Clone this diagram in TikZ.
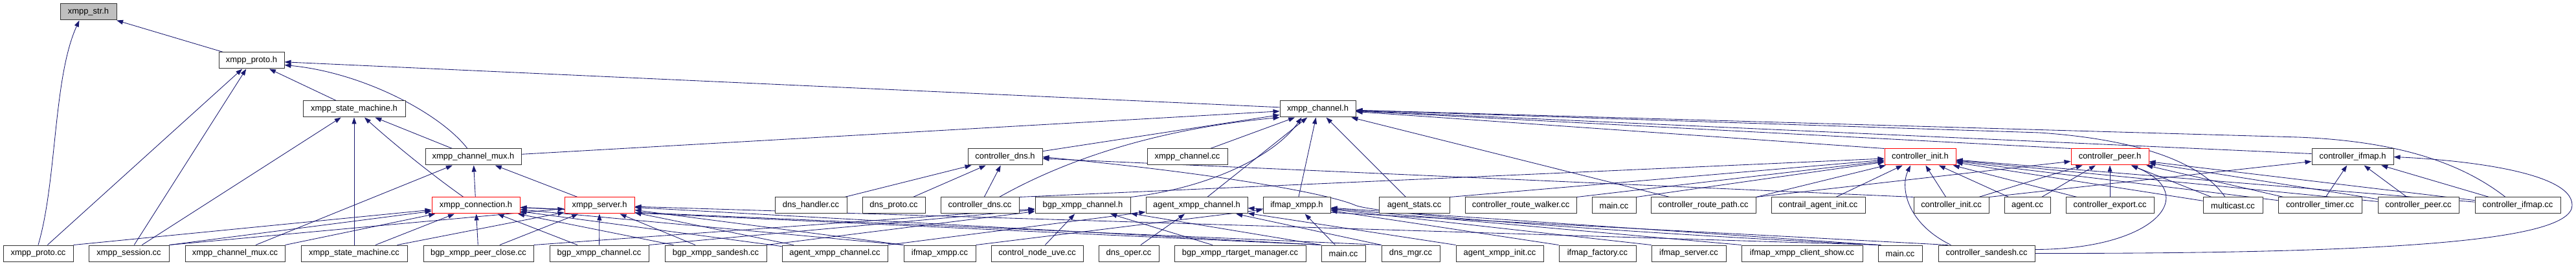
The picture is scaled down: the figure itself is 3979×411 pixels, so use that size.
\documentclass[tikz,border=0pt]{standalone}
\usepackage{fontspec}
\setmainfont{Liberation Sans}
\usetikzlibrary{arrows.meta,backgrounds}
\definecolor{edgec}{HTML}{191970}
\begin{document}
\begin{tikzpicture}[x=1pt,y=-1pt,
  box/.style={draw=black!80,line width=1pt,fill=white,minimum height=25pt,inner sep=0pt,font=\fontsize{12.95}{15}\selectfont},
  hl/.style={draw=red},
  cur/.style={fill=black!25},
  edge/.style={draw=edgec,line width=0.85pt,-{Triangle[length=10pt,width=7pt]}}]
\useasboundingbox (0,0) rectangle (3979,411);
% row 0-2
\node[box,cur,minimum width=87pt] (str) at (136.5,18.5) {xmpp\_str.h};
\node[box,minimum width=101pt] (proto) at (388.5,93.5) {xmpp\_proto.h};
\node[box,minimum width=158pt] (sm) at (547,168.5) {xmpp\_state\_machine.h};
\node[box,minimum width=117pt] (ch) at (2035.5,168.5) {xmpp\_channel.h};
% row 3
\node[box,minimum width=148pt] (muxh) at (731,242.5) {xmpp\_channel\_mux.h};
\node[box,minimum width=115pt] (cdnsh) at (1552.5,242.5) {controller\_dns.h};
\node[box,minimum width=124pt] (chcc) at (1834,242.5) {xmpp\_channel.cc};
\node[box,hl,minimum width=110pt] (cih) at (2966,242.5) {controller\_init.h};
\node[box,hl,minimum width=120pt] (cph) at (3259,242.5) {controller\_peer.h};
\node[box,minimum width=126pt] (cifh) at (3634,242.5) {controller\_ifmap.h};
% row 4
\node[box,hl,minimum width=136pt] (conn) at (735,317.5) {xmpp\_connection.h};
\node[box,hl,minimum width=108pt] (srv) at (926,317.5) {xmpp\_server.h};
\node[box,minimum width=111pt] (dnsh) at (1252.5,317.5) {dns\_handler.cc};
\node[box,minimum width=97pt] (dnsp) at (1380.5,317.5) {dns\_proto.cc};
\node[box,minimum width=121pt] (cdnscc) at (1513.5,317.5) {controller\_dns.cc};
\node[box,minimum width=147pt] (bxch) at (1672.5,317.5) {bgp\_xmpp\_channel.h};
\node[box,minimum width=157pt] (axch) at (1848.5,317.5) {agent\_xmpp\_channel.h};
\node[box,minimum width=104pt] (ixh) at (2003,317.5) {ifmap\_xmpp.h};
\node[box,minimum width=109pt] (astats) at (2184.5,317.5) {agent\_stats.cc};
\node[box,minimum width=172pt] (crw) at (2349,317.5) {controller\_route\_walker.cc};
\node[box,minimum width=68pt] (main4) at (2493,317.5) {main.cc};
\node[box,minimum width=162pt] (crp) at (2631,317.5) {controller\_route\_path.cc};
\node[box,minimum width=145pt] (cai) at (2808.5,317.5) {contrail\_agent\_init.cc};
\node[box,minimum width=116pt] (cicc) at (3014,317.5) {controller\_init.cc};
\node[box,minimum width=71pt] (agent) at (3131.5,317.5) {agent.cc};
\node[box,minimum width=136pt] (cexp) at (3259,317.5) {controller\_export.cc};
\node[box,minimum width=92pt] (mcast) at (3449,317.5) {multicast.cc};
\node[box,minimum width=129pt] (ctimer) at (3583.5,317.5) {controller\_timer.cc};
\node[box,minimum width=125pt] (cpeer) at (3735.5,317.5) {controller\_peer.cc};
\node[box,minimum width=132pt] (cifcc) at (3889,317.5) {controller\_ifmap.cc};
% row 5
\node[box,minimum width=108pt] (protocc) at (59,391.5) {xmpp\_proto.cc};
\node[box,minimum width=124pt] (sesscc) at (199,391.5) {xmpp\_session.cc};
\node[box,minimum width=154pt] (muxcc) at (363,391.5) {xmpp\_channel\_mux.cc};
\node[box,minimum width=164pt] (smcc) at (547,391.5) {xmpp\_state\_machine.cc};
\node[box,minimum width=170pt] (pclose) at (739,391.5) {bgp\_xmpp\_peer\_close.cc};
\node[box,minimum width=153pt] (bxcc) at (925.5,391.5) {bgp\_xmpp\_channel.cc};
\node[box,minimum width=157pt] (bxsand) at (1105.5,391.5) {bgp\_xmpp\_sandesh.cc};
\node[box,minimum width=163pt] (axcc) at (1289.5,391.5) {agent\_xmpp\_channel.cc};
\node[box,minimum width=111pt] (ixcc) at (1451.5,391.5) {ifmap\_xmpp.cc};
\node[box,minimum width=142pt] (cnuve) at (1602,391.5) {control\_node\_uve.cc};
\node[box,minimum width=93pt] (dnsoper) at (1743.5,391.5) {dns\_oper.cc};
\node[box,minimum width=203pt] (rtm) at (1915.5,391.5) {bgp\_xmpp\_rtarget\_manager.cc};
\node[box,minimum width=68pt] (main5a) at (2075,391.5) {main.cc};
\node[box,minimum width=90pt] (dnsmgr) at (2179,391.5) {dns\_mgr.cc};
\node[box,minimum width=135pt] (axinit) at (2316.5,391.5) {agent\_xmpp\_init.cc};
\node[box,minimum width=119pt] (iffact) at (2467.5,391.5) {ifmap\_factory.cc};
\node[box,minimum width=115pt] (ifsrv) at (2608.5,391.5) {ifmap\_server.cc};
\node[box,minimum width=187pt] (ifshow) at (2783.5,391.5) {ifmap\_xmpp\_client\_show.cc};
\node[box,minimum width=68pt] (main5b) at (2935,391.5) {main.cc};
\node[box,minimum width=149pt] (csand) at (3068.5,391.5) {controller\_sandesh.cc};

\begin{scope}[on background layer]
% xmpp_str.h
\draw[edge] (proto) -- (str);
\draw[edge] (protocc.north) .. controls (88,280) and (82,120) .. ([xshift=-14pt]str.south);
% xmpp_proto.h
\draw[edge] (protocc) -- (proto);
\draw[edge] (sesscc) -- (proto);
\draw[edge] (sm) -- (proto);
\draw[edge] (ch) -- (proto);
\draw[edge] ([xshift=-9pt]muxh.north) .. controls (680,175) and (560,112) .. ([yshift=-7pt]proto.east);
% xmpp_state_machine.h
\draw[edge] (sesscc) -- (sm);
\draw[edge] (smcc) -- (sm);
\draw[edge] ([xshift=-19pt]conn.north) .. controls (660,265) and (600,215) .. ([xshift=16pt]sm.south);
\draw[edge] (muxh) -- (sm);
% xmpp_channel_mux.h
\draw[edge] (muxcc) -- (muxh);
\draw[edge] (conn) -- (muxh);
\draw[edge] (srv) -- (muxh);
% xmpp_channel.h
\draw[edge] (muxh) -- (ch);
\draw[edge] (cdnsh) -- (ch);
\draw[edge] ([xshift=30pt]cdnscc.north) .. controls (1640,250) and (1780,200) .. (ch.south west);
\draw[edge] (chcc) -- (ch);
\draw[edge] (bxch.north east) .. controls (1870,290) and (1970,240) .. ([xshift=-25pt]ch.south);
\draw[edge] (axch) -- (ch);
\draw[edge] (ixh) -- (ch);
\draw[edge] (astats) -- (ch);
\draw[edge] (crp) -- (ch);
\draw[edge] (cih.north west) -- (ch);
\draw[edge] (cph.north west) -- (ch);
\draw[edge] ([yshift=5pt]cifh.west) -- (ch);
\draw[edge] ([xshift=-12pt]mcast.north) .. controls (3400,250) and (3300,215) .. (3150,205) -- (ch);
\draw[edge] ([xshift=-19pt]cifcc.north) .. controls (3800,250) and (3700,218) .. (3550,212) -- (ch);
% controller_dns.h
\draw[edge] (dnsh) -- (cdnsh);
\draw[edge] (dnsp) -- (cdnsh);
\draw[edge] (cdnscc) -- (cdnsh);
\draw[edge] (cicc.north west) -- (cdnsh);
\draw[edge] ([xshift=5pt]main5b.north west) .. controls (2600,365) and (2130,333) .. (2093,317) .. controls (2056,301) and (1900,270) .. (cdnsh.east);
% controller_init.h
\draw[edge] (cdnscc.north east) -- (cih);
\draw[edge] (astats.north east) -- (cih);
\draw[edge] (crw.north east) -- (cih);
\draw[edge] (main4.north east) -- (cih);
\draw[edge] (crp.north east) -- (cih);
\draw[edge] (cai) -- (cih);
\draw[edge] (cicc) -- (cih);
\draw[edge] (agent) -- (cih);
\draw[edge] (cexp) -- (cih);
\draw[edge] (mcast) -- (cih);
\draw[edge] (ctimer) -- (cih);
\draw[edge] (cpeer) -- (cih);
\draw[edge] (cifcc) -- (cih);
\draw[edge] ([xshift=-55pt]csand.north) .. controls (2945,345) and (2935,290) .. ([xshift=-15pt]cih.south);
% controller_peer.h
\draw[edge] (crp.north east) -- (cph);
\draw[edge] (cicc) -- (cph);
\draw[edge] (agent) -- (cph);
\draw[edge] (cexp) -- (cph);
\draw[edge] (mcast) -- (cph);
\draw[edge] (ctimer) -- (cph);
\draw[edge] (cpeer) -- (cph);
\draw[edge] (cifcc) -- (cph);
\draw[edge] ([yshift=6pt]csand.east) .. controls (3330,385) and (3400,300) .. ([xshift=33pt]cph.south);
% controller_ifmap.h
\draw[edge] (cicc.north east) -- (cifh);
\draw[edge] (ctimer) -- (cifh);
\draw[edge] (cpeer) -- (cifh);
\draw[edge] (cifcc) -- (cifh);
\draw[edge] (csand.east) .. controls (3700,392) and (3973,372) .. (3973,317) .. controls (3973,262) and (3780,246) .. (cifh.east);
% xmpp_connection.h
\draw[edge] (protocc.north east) -- (conn);
\draw[edge] (sesscc.north east) -- (conn);
\draw[edge] (muxcc.north east) -- (conn);
\draw[edge] (smcc) -- (conn);
\draw[edge] (pclose) -- (conn);
\draw[edge] (bxcc) -- (conn);
\draw[edge] (bxsand) -- (conn);
\draw[edge] (axcc) -- (conn);
\draw[edge] (ixcc.north west) -- (conn);
\draw[edge] (main5a.north west) -- (conn);
\draw[edge] (dnsmgr.north west) -- (conn);
% xmpp_server.h
\draw[edge] (sesscc.north east) -- (srv);
\draw[edge] (smcc) -- (srv);
\draw[edge] (pclose) -- (srv);
\draw[edge] (bxcc) -- (srv);
\draw[edge] (bxsand) -- (srv);
\draw[edge] (axcc) -- (srv);
\draw[edge] (ixcc.north west) -- (srv);
\draw[edge] (main5a.north west) -- (srv);
\draw[edge] (main5b.north west) -- (srv);
% bgp_xmpp_channel.h
\draw[edge] (pclose.north east) -- (bxch);
\draw[edge] (bxcc.north east) -- (bxch);
\draw[edge] (bxsand.north east) -- (bxch);
\draw[edge] (cnuve) -- (bxch);
\draw[edge] (rtm) -- (bxch);
\draw[edge] (main5a.north west) -- (bxch);
% agent_xmpp_channel.h
\draw[edge] (axcc.north east) -- (axch);
\draw[edge] (dnsoper) -- (axch);
\draw[edge] (axinit.north west) -- (axch);
\draw[edge] (dnsmgr.north west) -- (axch);
\draw[edge] ([xshift=-60pt]csand.north) -- (axch);
% ifmap_xmpp.h
\draw[edge] (ixcc.north east) -- (ixh);
\draw[edge] (main5a) -- (ixh);
\draw[edge] (iffact.north west) -- (ixh);
\draw[edge] (ifsrv.north west) -- (ixh);
\draw[edge] (ifshow.north west) -- (ixh);
\draw[edge] (main5b.north west) -- (ixh);
\end{scope}
\end{tikzpicture}
\end{document}
